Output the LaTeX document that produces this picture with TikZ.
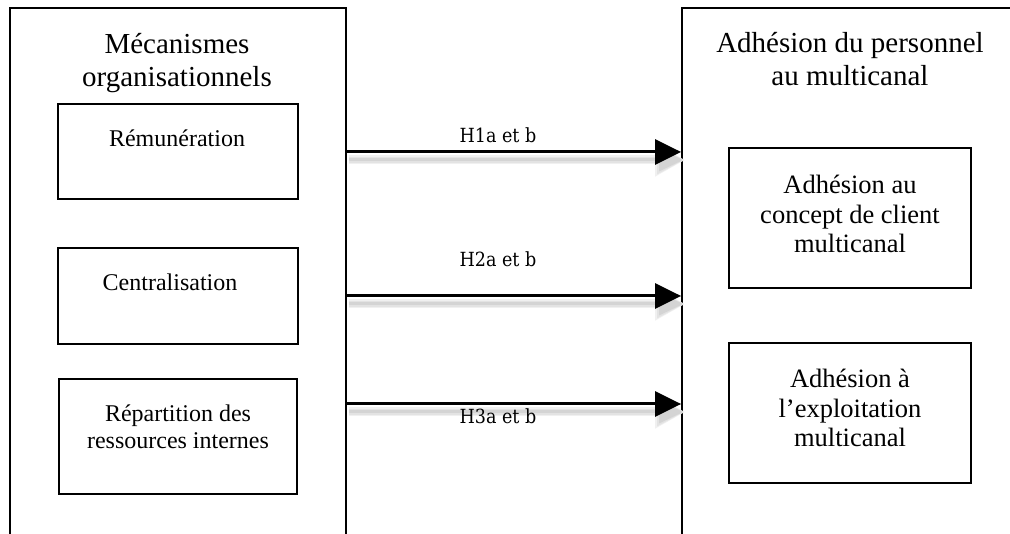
\documentclass[tikz,border=0pt]{standalone}
\usepackage{fontspec}
\setmainfont{Liberation Serif}
\newfontfamily\hfont{DejaVu Serif Condensed}
\usetikzlibrary{arrows.meta}
\tikzset{
  bigframe/.style={draw, line width=1.8pt, inner sep=0pt},
  smallbox/.style={draw, line width=1.7pt, inner sep=0pt},
  titletext/.style={anchor=base, align=center, inner sep=0pt, font=\fontsize{29}{33}\selectfont},
  lefttext/.style={anchor=base, align=center, inner sep=0pt, font=\fontsize{24}{27}\selectfont},
  righttext/.style={anchor=base, align=center, inner sep=0pt, font=\fontsize{26.5}{29.5}\selectfont},
  hlabel/.style={anchor=base, inner sep=0pt, font=\hfont\fontsize{19.5}{22}\selectfont},
  arr/.style={line width=3pt, -{Triangle[length=26pt,width=25pt]}},
  shadowA/.style={line width=9pt, black!6, -{Triangle[length=30pt,width=31pt]}},
  shadowB/.style={line width=6pt, black!11, -{Triangle[length=27pt,width=27pt]}},
  shadowC/.style={line width=3pt, black!17, -{Triangle[length=24pt,width=22pt]}}
}
\begin{document}
\begin{tikzpicture}[x=1pt,y=-1pt]
\useasboundingbox (0,0) rectangle (1010,534);
\clip (0,0) rectangle (1010,534);
\fill[white] (0,0) rectangle (1010,534);

% big frames
\node[bigframe, minimum width=336pt, minimum height=552pt] (left) at (178,284) {};
\node[bigframe, minimum width=348pt, minimum height=552pt] (right) at (856,284) {};

% left inner boxes
\node[smallbox, minimum width=240pt, minimum height=95pt] (rem) at (178,151.5) {};
\node[smallbox, minimum width=240pt, minimum height=96pt] (cen) at (178,296) {};
\node[smallbox, minimum width=238pt, minimum height=115pt] (rep) at (178,436.5) {};

% right inner boxes
\node[smallbox, minimum width=242pt, minimum height=140pt] (con) at (850,218) {};
\node[smallbox, minimum width=242pt, minimum height=140pt] (exp) at (850,413) {};

% titles (base anchor = baseline of last line)
\node[titletext] (lt) at (177,87) {Mécanismes\\organisationnels};
\node[titletext] (rt) at (850,86) {Adhésion du personnel\\au multicanal};

% box texts
\node[lefttext] (remt) at (177,147) {Rémunération};
\node[lefttext] (cent) at (170,291) {Centralisation};
\node[lefttext] (rept) at (178,449) {Répartition des\\ressources internes};
\node[righttext] (cont) at (850,253) {Adhésion au\\concept de client\\multicanal};
\node[righttext] (expt) at (850,447) {Adhésion à\\l’exploitation\\multicanal};

% arrow shadows
\foreach \yy in {152,296,404}{
  \draw[shadowA] ([xshift=2pt]left.east |- 0,\yy+8) -- ([xshift=4pt]right.west |- 0,\yy+8);
  \draw[shadowB] ([xshift=2pt]left.east |- 0,\yy+8) -- ([xshift=3pt]right.west |- 0,\yy+8);
  \draw[shadowC] ([xshift=2pt]left.east |- 0,\yy+8) -- ([xshift=2pt]right.west |- 0,\yy+8);
}
% arrows
\draw[arr] (left.east |- 0,152) -- (right.west |- 0,152);
\draw[arr] (left.east |- 0,296) -- (right.west |- 0,296);
\draw[arr] (left.east |- 0,404) -- (right.west |- 0,404);

% arrow labels
\node[hlabel] (h1) at (498,143) {H1a et b};
\node[hlabel] (h2) at (498,267) {H2a et b};
\node[hlabel] (h3) at (498,424) {H3a et b};
\end{tikzpicture}
\end{document}
